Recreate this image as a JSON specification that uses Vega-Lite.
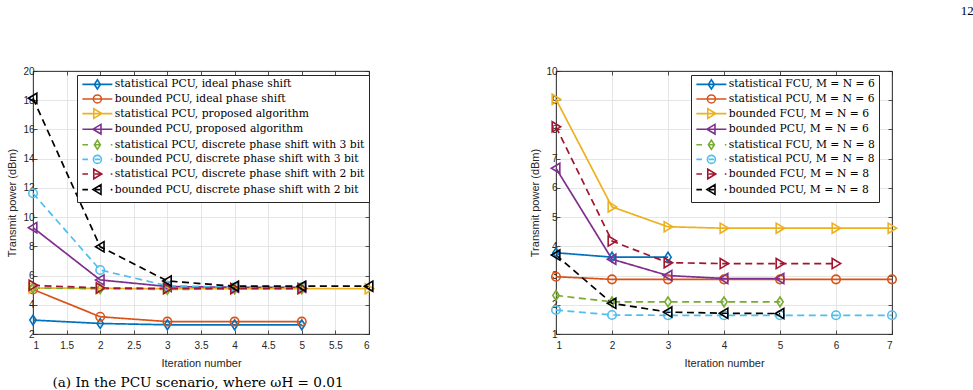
{
  "$schema": "https://vega.github.io/schema/vega-lite/v6.json",
  "background": "white",
  "padding": {"left": 6, "top": 4, "right": 0, "bottom": 0},
  "bounds": "flush",
  "spacing": 187,
  "hconcat": [
    {
      "width": 336,
      "height": 263,
      "title": {"text": "(a) In the PCU scenario, where ωH = 0.01", "orient": "bottom", "anchor": "middle", "font": "DejaVu Serif", "fontSize": 13.6, "fontWeight": "normal", "color": "black", "offset": 8, "dx": -3},
      "data": {"values": [
        {"it": 1, "p": 2.95, "s": "statistical PCU, ideal phase shift"},
        {"it": 2, "p": 2.72, "s": "statistical PCU, ideal phase shift"},
        {"it": 3, "p": 2.63, "s": "statistical PCU, ideal phase shift"},
        {"it": 4, "p": 2.63, "s": "statistical PCU, ideal phase shift"},
        {"it": 5, "p": 2.63, "s": "statistical PCU, ideal phase shift"},
        {"it": 1, "p": 5.05, "s": "bounded PCU, ideal phase shift"},
        {"it": 2, "p": 3.18, "s": "bounded PCU, ideal phase shift"},
        {"it": 3, "p": 2.85, "s": "bounded PCU, ideal phase shift"},
        {"it": 4, "p": 2.85, "s": "bounded PCU, ideal phase shift"},
        {"it": 5, "p": 2.85, "s": "bounded PCU, ideal phase shift"},
        {"it": 1, "p": 5.15, "s": "statistical PCU, proposed algorithm"},
        {"it": 2, "p": 5.12, "s": "statistical PCU, proposed algorithm"},
        {"it": 3, "p": 5.1, "s": "statistical PCU, proposed algorithm"},
        {"it": 4, "p": 5.1, "s": "statistical PCU, proposed algorithm"},
        {"it": 5, "p": 5.1, "s": "statistical PCU, proposed algorithm"},
        {"it": 6, "p": 5.1, "s": "statistical PCU, proposed algorithm"},
        {"it": 1, "p": 9.28, "s": "bounded PCU, proposed algorithm"},
        {"it": 2, "p": 5.7, "s": "bounded PCU, proposed algorithm"},
        {"it": 3, "p": 5.25, "s": "bounded PCU, proposed algorithm"},
        {"it": 4, "p": 5.2, "s": "bounded PCU, proposed algorithm"},
        {"it": 5, "p": 5.2, "s": "bounded PCU, proposed algorithm"},
        {"it": 1, "p": 5.15, "s": "statistical PCU, discrete phase shift with 3 bit"},
        {"it": 2, "p": 5.1, "s": "statistical PCU, discrete phase shift with 3 bit"},
        {"it": 3, "p": 5.05, "s": "statistical PCU, discrete phase shift with 3 bit"},
        {"it": 4, "p": 5.08, "s": "statistical PCU, discrete phase shift with 3 bit"},
        {"it": 5, "p": 5.08, "s": "statistical PCU, discrete phase shift with 3 bit"},
        {"it": 1, "p": 11.63, "s": "bounded PCU, discrete phase shift with 3 bit"},
        {"it": 2, "p": 6.38, "s": "bounded PCU, discrete phase shift with 3 bit"},
        {"it": 3, "p": 5.3, "s": "bounded PCU, discrete phase shift with 3 bit"},
        {"it": 4, "p": 5.2, "s": "bounded PCU, discrete phase shift with 3 bit"},
        {"it": 5, "p": 5.2, "s": "bounded PCU, discrete phase shift with 3 bit"},
        {"it": 1, "p": 5.33, "s": "statistical PCU, discrete phase shift with 2 bit"},
        {"it": 2, "p": 5.15, "s": "statistical PCU, discrete phase shift with 2 bit"},
        {"it": 3, "p": 5.12, "s": "statistical PCU, discrete phase shift with 2 bit"},
        {"it": 4, "p": 5.12, "s": "statistical PCU, discrete phase shift with 2 bit"},
        {"it": 5, "p": 5.12, "s": "statistical PCU, discrete phase shift with 2 bit"},
        {"it": 1, "p": 18.13, "s": "bounded PCU, discrete phase shift with 2 bit"},
        {"it": 2, "p": 7.97, "s": "bounded PCU, discrete phase shift with 2 bit"},
        {"it": 3, "p": 5.63, "s": "bounded PCU, discrete phase shift with 2 bit"},
        {"it": 4, "p": 5.27, "s": "bounded PCU, discrete phase shift with 2 bit"},
        {"it": 5, "p": 5.27, "s": "bounded PCU, discrete phase shift with 2 bit"},
        {"it": 6, "p": 5.27, "s": "bounded PCU, discrete phase shift with 2 bit"}
      ]},
      "layer": [
        {
          "mark": {"type": "line", "strokeWidth": 1.7},
          "encoding": {
            "x": {"field": "it", "type": "quantitative", "scale": {"domain": [1, 6], "nice": false, "zero": false},
                  "axis": {"values": [1, 1.5, 2, 2.5, 3, 3.5, 4, 4.5, 5, 5.5, 6], "format": "~g", "title": "Iteration number", "grid": true}},
            "y": {"field": "p", "type": "quantitative", "scale": {"domain": [2, 20], "nice": false, "zero": false},
                  "axis": {"values": [2, 4, 6, 8, 10, 12, 14, 16, 18, 20], "title": "Transmit power (dBm)", "grid": true}},
            "color": {
              "field": "s", "type": "nominal",
              "scale": {
                "domain": ["statistical PCU, ideal phase shift", "bounded PCU, ideal phase shift", "statistical PCU, proposed algorithm", "bounded PCU, proposed algorithm", "statistical PCU, discrete phase shift with 3 bit", "bounded PCU, discrete phase shift with 3 bit", "statistical PCU, discrete phase shift with 2 bit", "bounded PCU, discrete phase shift with 2 bit"],
                "range": ["#0072BD", "#D95319", "#EDB120", "#7E2F8E", "#77AC30", "#4DBEEE", "#A2142F", "#000000"]
              },
              "legend": {
                "title": null, "orient": "none", "legendX": 44, "legendY": 4, "direction": "vertical",
                "symbolSize": 64, "labelOffset": 23, "padding": 4, "rowPadding": -1.4,
                "strokeColor": "#262626", "fillColor": "white",
                "labelFont": "DejaVu Serif", "labelFontSize": 10.75, "labelColor": "black", "labelLimit": 400,
                "encode": {"symbols": {"update": {
                  "shape": {"signal": "['M-1,0L6.5,0M2.75,-1.15L3.5,0L2.75,1.15L2,0Z', 'M-1,0L6.5,0M1.75,0A1,1 0 1,0 3.75,0A1,1 0 1,0 1.75,0Z', 'M-1,0L6.5,0M1.85,-1.2L3.85,0L1.85,1.2Z', 'M-1,0L6.5,0M3.65,-1.2L1.65,0L3.65,1.2Z', 'M-1,0L0.4,0M2.1,0L3.4,0M6.1,0L6.5,0M2.75,-1.15L3.5,0L2.75,1.15L2,0Z', 'M-1,0L0.4,0M2.1,0L3.4,0M6.1,0L6.5,0M1.75,0A1,1 0 1,0 3.75,0A1,1 0 1,0 1.75,0Z', 'M-1,0L0.4,0M2.1,0L3.4,0M6.1,0L6.5,0M1.85,-1.2L3.85,0L1.85,1.2Z', 'M-1,0L0.4,0M2.1,0L3.4,0M6.1,0L6.5,0M3.65,-1.2L1.65,0L3.65,1.2Z'][indexof(['statistical PCU, ideal phase shift', 'bounded PCU, ideal phase shift', 'statistical PCU, proposed algorithm', 'bounded PCU, proposed algorithm', 'statistical PCU, discrete phase shift with 3 bit', 'bounded PCU, discrete phase shift with 3 bit', 'statistical PCU, discrete phase shift with 2 bit', 'bounded PCU, discrete phase shift with 2 bit'], datum.value)]"},
                  "fill": {"value": "transparent"},
                  "strokeWidth": {"value": 1.6},
                  "strokeDash": {"value": []}
                }}}
              }
            },
            "strokeDash": {
              "field": "s", "type": "nominal", "legend": null,
              "scale": {
                "domain": ["bounded PCU, discrete phase shift with 2 bit", "statistical PCU, discrete phase shift with 2 bit", "bounded PCU, discrete phase shift with 3 bit", "statistical PCU, discrete phase shift with 3 bit", "bounded PCU, proposed algorithm", "statistical PCU, proposed algorithm", "bounded PCU, ideal phase shift", "statistical PCU, ideal phase shift"],
                "range": [[7, 4.5], [7, 4.5], [7, 4.5], [7, 4.5], [1, 0], [1, 0], [1, 0], [1, 0]]
              }
            }
          }
        },
        {
          "mark": {"type": "point", "filled": false, "strokeWidth": 1.6, "size": 72, "opacity": 1},
          "encoding": {
            "x": {"field": "it", "type": "quantitative", "axis": {"orient": "top", "values": [1, 1.5, 2, 2.5, 3, 3.5, 4, 4.5, 5, 5.5, 6], "labels": false, "title": null, "grid": false}},
            "y": {"field": "p", "type": "quantitative", "axis": {"orient": "right", "values": [2, 4, 6, 8, 10, 12, 14, 16, 18, 20], "labels": false, "title": null, "grid": false}},
            "stroke": {
              "field": "s", "type": "nominal", "legend": null,
              "scale": {
                "domain": ["bounded PCU, discrete phase shift with 2 bit", "statistical PCU, discrete phase shift with 2 bit", "bounded PCU, discrete phase shift with 3 bit", "statistical PCU, discrete phase shift with 3 bit", "bounded PCU, proposed algorithm", "statistical PCU, proposed algorithm", "bounded PCU, ideal phase shift", "statistical PCU, ideal phase shift"],
                "range": ["#000000", "#A2142F", "#4DBEEE", "#77AC30", "#7E2F8E", "#EDB120", "#D95319", "#0072BD"]
              }
            },
            "shape": {
              "field": "s", "type": "nominal", "legend": null,
              "scale": {
                "domain": ["bounded PCU, discrete phase shift with 2 bit", "statistical PCU, discrete phase shift with 2 bit", "bounded PCU, discrete phase shift with 3 bit", "statistical PCU, discrete phase shift with 3 bit", "bounded PCU, proposed algorithm", "statistical PCU, proposed algorithm", "bounded PCU, ideal phase shift", "statistical PCU, ideal phase shift"],
                "range": ["M0.9,-1.2L-1.1,0L0.9,1.2Z", "M-0.9,-1.2L1.1,0L-0.9,1.2Z", "circle", "M0,-1.15L0.75,0L0,1.15L-0.75,0Z", "M0.9,-1.2L-1.1,0L0.9,1.2Z", "M-0.9,-1.2L1.1,0L-0.9,1.2Z", "circle", "M0,-1.15L0.75,0L0,1.15L-0.75,0Z"]
              }
            }
          }
        }
      ],
      "resolve": {"axis": {"x": "independent", "y": "independent"}}
    },
    {
      "width": 336,
      "height": 263,
      "title": {"text": "12", "orient": "top", "anchor": "end", "dx": 74, "offset": 48, "font": "Liberation Serif", "fontSize": 13, "fontWeight": "normal", "color": "black"},
      "data": {"values": [
        {"it": 1, "p": 3.78, "s": "statistical FCU, M = N = 6"},
        {"it": 2, "p": 3.63, "s": "statistical FCU, M = N = 6"},
        {"it": 3, "p": 3.63, "s": "statistical FCU, M = N = 6"},
        {"it": 1, "p": 2.96, "s": "statistical PCU, M = N = 6"},
        {"it": 2, "p": 2.87, "s": "statistical PCU, M = N = 6"},
        {"it": 3, "p": 2.87, "s": "statistical PCU, M = N = 6"},
        {"it": 4, "p": 2.87, "s": "statistical PCU, M = N = 6"},
        {"it": 5, "p": 2.87, "s": "statistical PCU, M = N = 6"},
        {"it": 6, "p": 2.87, "s": "statistical PCU, M = N = 6"},
        {"it": 7, "p": 2.87, "s": "statistical PCU, M = N = 6"},
        {"it": 1, "p": 9.03, "s": "bounded FCU, M = N = 6"},
        {"it": 2, "p": 5.35, "s": "bounded FCU, M = N = 6"},
        {"it": 3, "p": 4.67, "s": "bounded FCU, M = N = 6"},
        {"it": 4, "p": 4.62, "s": "bounded FCU, M = N = 6"},
        {"it": 5, "p": 4.62, "s": "bounded FCU, M = N = 6"},
        {"it": 6, "p": 4.62, "s": "bounded FCU, M = N = 6"},
        {"it": 7, "p": 4.62, "s": "bounded FCU, M = N = 6"},
        {"it": 1, "p": 6.67, "s": "bounded PCU, M = N = 6"},
        {"it": 2, "p": 3.56, "s": "bounded PCU, M = N = 6"},
        {"it": 3, "p": 3.0, "s": "bounded PCU, M = N = 6"},
        {"it": 4, "p": 2.9, "s": "bounded PCU, M = N = 6"},
        {"it": 5, "p": 2.9, "s": "bounded PCU, M = N = 6"},
        {"it": 1, "p": 2.32, "s": "statistical FCU, M = N = 8"},
        {"it": 2, "p": 2.1, "s": "statistical FCU, M = N = 8"},
        {"it": 3, "p": 2.1, "s": "statistical FCU, M = N = 8"},
        {"it": 4, "p": 2.1, "s": "statistical FCU, M = N = 8"},
        {"it": 5, "p": 2.1, "s": "statistical FCU, M = N = 8"},
        {"it": 1, "p": 1.82, "s": "statistical PCU, M = N = 8"},
        {"it": 2, "p": 1.65, "s": "statistical PCU, M = N = 8"},
        {"it": 3, "p": 1.64, "s": "statistical PCU, M = N = 8"},
        {"it": 4, "p": 1.64, "s": "statistical PCU, M = N = 8"},
        {"it": 5, "p": 1.64, "s": "statistical PCU, M = N = 8"},
        {"it": 6, "p": 1.64, "s": "statistical PCU, M = N = 8"},
        {"it": 7, "p": 1.64, "s": "statistical PCU, M = N = 8"},
        {"it": 1, "p": 8.09, "s": "bounded FCU, M = N = 8"},
        {"it": 2, "p": 4.18, "s": "bounded FCU, M = N = 8"},
        {"it": 3, "p": 3.44, "s": "bounded FCU, M = N = 8"},
        {"it": 4, "p": 3.41, "s": "bounded FCU, M = N = 8"},
        {"it": 5, "p": 3.41, "s": "bounded FCU, M = N = 8"},
        {"it": 6, "p": 3.41, "s": "bounded FCU, M = N = 8"},
        {"it": 1, "p": 3.7, "s": "bounded PCU, M = N = 8"},
        {"it": 2, "p": 2.05, "s": "bounded PCU, M = N = 8"},
        {"it": 3, "p": 1.75, "s": "bounded PCU, M = N = 8"},
        {"it": 4, "p": 1.71, "s": "bounded PCU, M = N = 8"},
        {"it": 5, "p": 1.7, "s": "bounded PCU, M = N = 8"}
      ]},
      "layer": [
        {
          "mark": {"type": "line", "strokeWidth": 1.7},
          "encoding": {
            "x": {"field": "it", "type": "quantitative", "scale": {"domain": [1, 7], "nice": false, "zero": false},
                  "axis": {"values": [1, 2, 3, 4, 5, 6, 7], "format": "~g", "title": "Iteration number", "grid": true}},
            "y": {"field": "p", "type": "quantitative", "scale": {"domain": [1, 10], "nice": false, "zero": false},
                  "axis": {"values": [1, 2, 3, 4, 5, 6, 7, 8, 9, 10], "title": "Transmit power (dBm)", "grid": true}},
            "color": {
              "field": "s", "type": "nominal",
              "scale": {
                "domain": ["statistical FCU, M = N = 6", "statistical PCU, M = N = 6", "bounded FCU, M = N = 6", "bounded PCU, M = N = 6", "statistical FCU, M = N = 8", "statistical PCU, M = N = 8", "bounded FCU, M = N = 8", "bounded PCU, M = N = 8"],
                "range": ["#0072BD", "#D95319", "#EDB120", "#7E2F8E", "#77AC30", "#4DBEEE", "#A2142F", "#000000"]
              },
              "legend": {
                "title": null, "orient": "none", "legendX": 135, "legendY": 4, "direction": "vertical",
                "symbolSize": 64, "labelOffset": 23, "padding": 4, "rowPadding": -1.4,
                "strokeColor": "#262626", "fillColor": "white",
                "labelFont": "DejaVu Serif", "labelFontSize": 10.75, "labelColor": "black", "labelLimit": 400,
                "encode": {"symbols": {"update": {
                  "shape": {"signal": "['M-1,0L6.5,0M2.75,-1.15L3.5,0L2.75,1.15L2,0Z', 'M-1,0L6.5,0M1.75,0A1,1 0 1,0 3.75,0A1,1 0 1,0 1.75,0Z', 'M-1,0L6.5,0M1.85,-1.2L3.85,0L1.85,1.2Z', 'M-1,0L6.5,0M3.65,-1.2L1.65,0L3.65,1.2Z', 'M-1,0L0.4,0M2.1,0L3.4,0M6.1,0L6.5,0M2.75,-1.15L3.5,0L2.75,1.15L2,0Z', 'M-1,0L0.4,0M2.1,0L3.4,0M6.1,0L6.5,0M1.75,0A1,1 0 1,0 3.75,0A1,1 0 1,0 1.75,0Z', 'M-1,0L0.4,0M2.1,0L3.4,0M6.1,0L6.5,0M1.85,-1.2L3.85,0L1.85,1.2Z', 'M-1,0L0.4,0M2.1,0L3.4,0M6.1,0L6.5,0M3.65,-1.2L1.65,0L3.65,1.2Z'][indexof(['statistical FCU, M = N = 6', 'statistical PCU, M = N = 6', 'bounded FCU, M = N = 6', 'bounded PCU, M = N = 6', 'statistical FCU, M = N = 8', 'statistical PCU, M = N = 8', 'bounded FCU, M = N = 8', 'bounded PCU, M = N = 8'], datum.value)]"},
                  "fill": {"value": "transparent"},
                  "strokeWidth": {"value": 1.6},
                  "strokeDash": {"value": []}
                }}}
              }
            },
            "strokeDash": {
              "field": "s", "type": "nominal", "legend": null,
              "scale": {
                "domain": ["bounded PCU, M = N = 8", "bounded FCU, M = N = 8", "statistical PCU, M = N = 8", "statistical FCU, M = N = 8", "bounded PCU, M = N = 6", "bounded FCU, M = N = 6", "statistical PCU, M = N = 6", "statistical FCU, M = N = 6"],
                "range": [[7, 4.5], [7, 4.5], [7, 4.5], [7, 4.5], [1, 0], [1, 0], [1, 0], [1, 0]]
              }
            }
          }
        },
        {
          "mark": {"type": "point", "filled": false, "strokeWidth": 1.6, "size": 72, "opacity": 1},
          "encoding": {
            "x": {"field": "it", "type": "quantitative", "axis": {"orient": "top", "values": [1, 2, 3, 4, 5, 6, 7], "labels": false, "title": null, "grid": false}},
            "y": {"field": "p", "type": "quantitative", "axis": {"orient": "right", "values": [1, 2, 3, 4, 5, 6, 7, 8, 9, 10], "labels": false, "title": null, "grid": false}},
            "stroke": {
              "field": "s", "type": "nominal", "legend": null,
              "scale": {
                "domain": ["bounded PCU, M = N = 8", "bounded FCU, M = N = 8", "statistical PCU, M = N = 8", "statistical FCU, M = N = 8", "bounded PCU, M = N = 6", "bounded FCU, M = N = 6", "statistical PCU, M = N = 6", "statistical FCU, M = N = 6"],
                "range": ["#000000", "#A2142F", "#4DBEEE", "#77AC30", "#7E2F8E", "#EDB120", "#D95319", "#0072BD"]
              }
            },
            "shape": {
              "field": "s", "type": "nominal", "legend": null,
              "scale": {
                "domain": ["bounded PCU, M = N = 8", "bounded FCU, M = N = 8", "statistical PCU, M = N = 8", "statistical FCU, M = N = 8", "bounded PCU, M = N = 6", "bounded FCU, M = N = 6", "statistical PCU, M = N = 6", "statistical FCU, M = N = 6"],
                "range": ["M0.9,-1.2L-1.1,0L0.9,1.2Z", "M-0.9,-1.2L1.1,0L-0.9,1.2Z", "circle", "M0,-1.15L0.75,0L0,1.15L-0.75,0Z", "M0.9,-1.2L-1.1,0L0.9,1.2Z", "M-0.9,-1.2L1.1,0L-0.9,1.2Z", "circle", "M0,-1.15L0.75,0L0,1.15L-0.75,0Z"]
              }
            }
          }
        }
      ],
      "resolve": {"axis": {"x": "independent", "y": "independent"}}
    }
  ],
  "resolve": {"scale": {"x": "independent", "y": "independent", "color": "independent", "stroke": "independent", "shape": "independent", "strokeDash": "independent"}},
  "config": {
    "view": {"stroke": "#262626", "strokeWidth": 0.8},
    "axis": {
      "domainColor": "#262626", "domainWidth": 0.8,
      "tickColor": "#262626", "tickSize": -4, "tickWidth": 0.8, "labelPadding": 3,
      "labelFont": "Liberation Sans", "labelFontSize": 10, "labelColor": "#262626",
      "titleFont": "Liberation Sans", "titleFontSize": 11, "titleFontWeight": "normal", "titleColor": "#262626", "titlePadding": 5,
      "gridColor": "#dfdfdf", "gridWidth": 0.8
    },
    "axisX": {"labelPadding": 10, "titlePadding": 7}
  }
}
